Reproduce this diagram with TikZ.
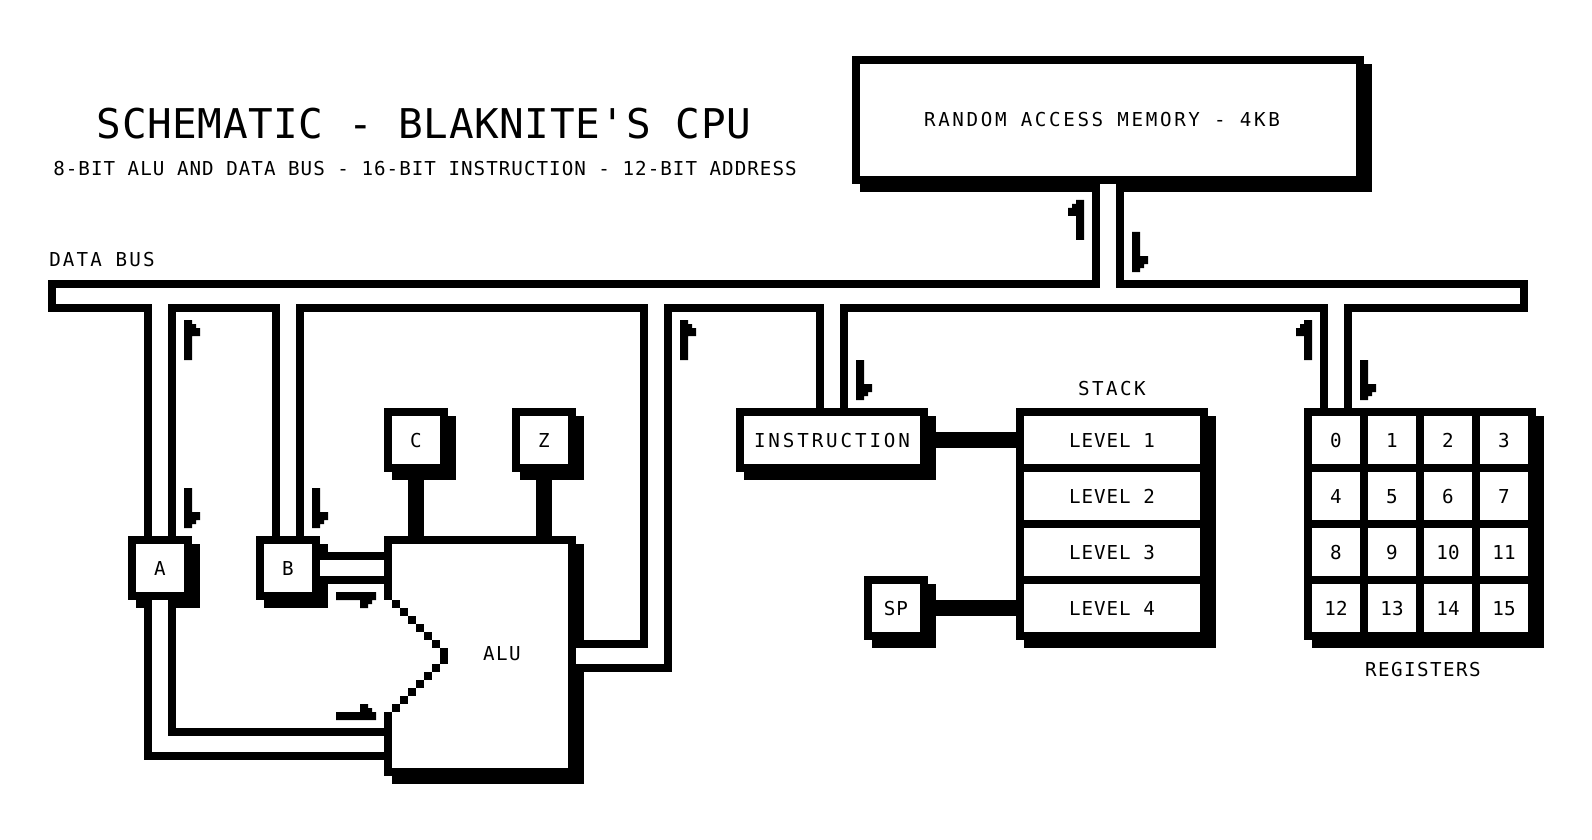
\documentclass[tikz,border=0pt]{standalone}
\usepackage{fontspec}
\newfontfamily\pixfont{DejaVu Sans Mono}
\usetikzlibrary{positioning}
\tikzset{
    pixtext/.style = {inner sep=0pt,text height=7pt,text depth=0pt,font=\pixfont\fontsize{9.6}{11}\selectfont\addfontfeature{LetterSpace=#1}},
    pixtext/.default = 5,
    titletext/.style = {inner sep=0pt,text height=15pt,text depth=0pt,font=\pixfont\fontsize{20.5}{24}\selectfont\addfontfeature{LetterSpace=1.4}},
    pixbox/.style = {rectangle, draw=black, fill=white, line width=4pt, inner sep=0pt,
        minimum width=28pt, minimum height=28pt, pixtext,
        preaction={draw=black, fill=black, transform canvas={xshift=4pt,yshift=-4pt}}},
    widebox/.style = {pixbox, minimum width=92pt},
    busline/.style = {double, draw=black, line width=4pt, double distance=8pt},
    wire/.style = {draw=black, line width=8pt},
    flagarrow/.pic = {
        \fill (0,0) -- (8,0) -- (8,4) -- (12,4) -- (12,8) -- (16,8) -- (16,16) -- (8,16) -- (8,40) -- (0,40) -- cycle;
    }
}
\begin{document}
\begin{tikzpicture}[x=0.5pt, y=-0.5pt]
  \useasboundingbox[fill=white] (0,0) rectangle (1592,840);

  \node[titletext] (title) at (424,124) {SCHEMATIC - BLAKNITE'S CPU};
  \node[pixtext=5.3] (subtitle) at (425,169) {8-BIT ALU AND DATA BUS - 16-BIT INSTRUCTION - 12-BIT ADDRESS};
  \node[pixtext=11.3] (buslabel) at (102,259) {DATA BUS};

  \node[pixbox, minimum width=252pt, minimum height=60pt, pixtext=13.7] (ram) at (1108,120) {RANDOM ACCESS MEMORY - 4KB\hspace*{6pt}};

  % registers on the left
  \node[pixbox] (rega) at (160,568) {A};
  \node[pixbox] (regb) at (288,568) {B};
  \node[pixbox] (flagc) at (416,440) {C};
  \node[pixbox] (flagz) at (544,440) {Z};
  \node[widebox, minimum height=116pt] (alu) at (480,656) {};
  \node[pixtext=7.5] (alulabel) at (502,653) {ALU};

  \node[widebox, pixtext=15] (instr) at (832,440) {INSTRUCTION};
  \node[pixbox] (stackptr) at (896,608) {SP};

  % stack
  \node[widebox] (levelone) at (1112,440) {LEVEL 1};
  \node[widebox, below=-4pt of levelone] (leveltwo) {LEVEL 2};
  \node[widebox, below=-4pt of leveltwo] (levelthree) {LEVEL 3};
  \node[widebox, below=-4pt of levelthree] (levelfour) {LEVEL 4};
  \node[pixtext=12.7, above=6pt of levelone] (stacklabel) {STACK};

  \foreach \n [evaluate=\n as \col using {int(mod(\n,4))}, evaluate=\n as \row using {int(\n/4)}] in {0,...,15}
    \node[pixbox, pixtext=0] (r\n) at ({1336+56*\col},{440+56*\row}) {\n};
  \node[pixtext=7.5] (reglabel) at (1423,669) {REGISTERS};

  \coordinate (busl) at (48,296);
  \coordinate (busr) at (1528,296);
  \coordinate (outj) at (656,296);
  \coordinate (aluin) at (384,744);

  \draw[busline] (busl) -- (busr)
    (ram.south) -- (ram.south |- busl)
    (rega.north) -- (rega.north |- busl)
    (regb.north) -- (regb.north |- busl)
    (instr.north) -- (instr.north |- busl)
    (r0.north) -- (r0.north |- busl)
    (alu.east) -| (outj);
  \fill (48,280) rectangle (56,312);
  \fill (1520,280) rectangle (1528,312);

  \draw[busline] (rega.south) |- (aluin);
  \draw[busline] (regb.east) -- (regb.east -| alu.west);

  \draw[wire] (flagc.south) -- (flagc.south |- alu.north);
  \draw[wire] (flagz.south) -- (flagz.south |- alu.north);
  \draw[wire] (instr.east) -- (levelone.west);
  \draw[wire] (stackptr.east) -- (levelfour.west);

  % notch of the alu
  \fill[white] (384,600) rectangle (392,712);
  \foreach \i in {0,...,5} {
    \fill ({392+8*\i},{600+8*\i}) rectangle ++(8,8);
    \fill ({392+8*\i},{704-8*\i}) rectangle ++(8,8);
  }
  \fill (440,648) rectangle (448,664);

  % data direction
  \pic at (184,320) {flagarrow};
  \pic at (680,320) {flagarrow};
  \pic[yscale=-1] at (184,528) {flagarrow};
  \pic[yscale=-1] at (312,528) {flagarrow};
  \pic[yscale=-1] at (1132,272) {flagarrow};
  \pic[yscale=-1] at (856,400) {flagarrow};
  \pic[yscale=-1] at (1360,400) {flagarrow};
  \pic[xscale=-1] at (1084,200) {flagarrow};
  \pic[xscale=-1] at (1312,320) {flagarrow};
  \pic[rotate=-90] at (376,592) {flagarrow};
  \pic[rotate=-90, xscale=-1] at (376,720) {flagarrow};
\end{tikzpicture}
\end{document}
